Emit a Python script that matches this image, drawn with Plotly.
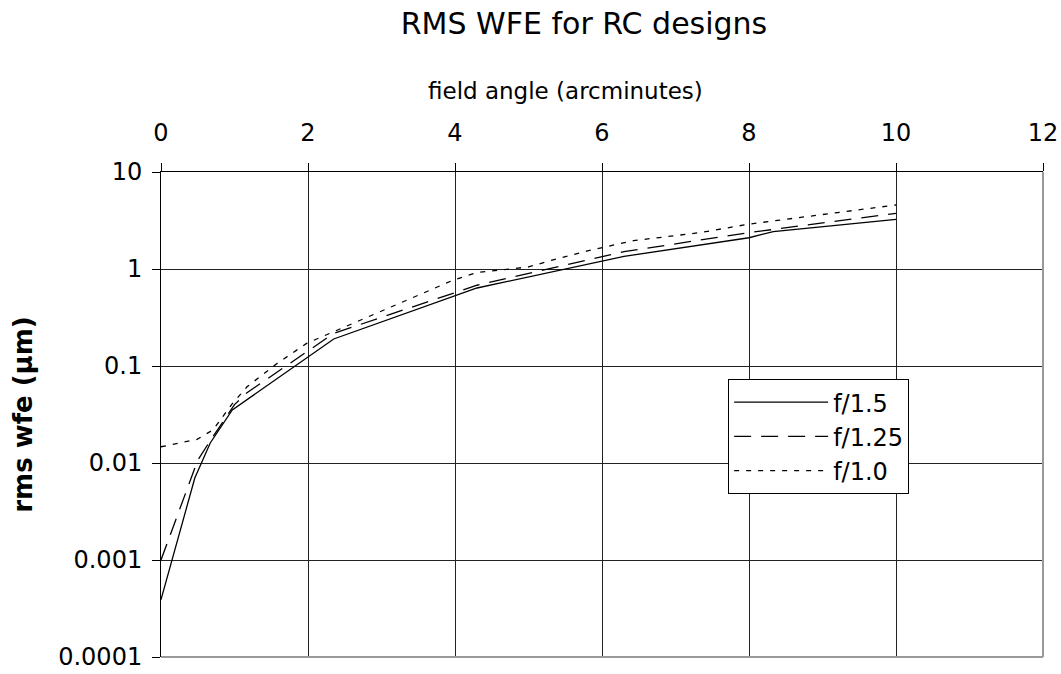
import plotly.graph_objects as go

# field angle (arcminutes) and rms wfe (um)
x_f15 = [0, 0.46, 0.67, 0.97, 2.35, 4.3, 6.3, 8.0, 8.33, 10]
y_f15 = [0.00039, 0.0070, 0.0161, 0.0352, 0.190, 0.637, 1.35, 2.10, 2.43, 3.25]

x_f125 = [0, 0.5, 0.67, 1.0, 1.17, 2.35, 4.3, 6.3, 8.0, 10]
y_f125 = [0.0010, 0.0107, 0.017, 0.040, 0.053, 0.217, 0.68, 1.51, 2.37, 3.75]

x_f10 = [0, 0.49, 0.71, 0.96, 1.17, 1.57, 1.98, 3.25, 3.98, 4.3, 5.0, 5.3, 5.79, 6.43, 7.33, 8.01, 9.15, 10]
y_f10 = [0.0147, 0.0175, 0.022, 0.040, 0.061, 0.105, 0.171, 0.443, 0.77, 0.92, 1.05, 1.22, 1.53, 1.96, 2.37, 2.91, 3.8, 4.57]

x_ticks = [0, 2, 4, 6, 8, 10, 12]
y_ticks = [0.0001, 0.001, 0.01, 0.1, 1, 10]
y_ticklabels = ['0.0001', '0.001', '0.01', '0.1', '1', '10']

FONT = "DejaVu Sans"
W, H = 1061, 674

fig = go.Figure()

fig.add_trace(go.Scatter(x=x_f15, y=y_f15, mode='lines', name='f/1.5',
                         line=dict(color='black', width=1.3)))
fig.add_trace(go.Scatter(x=x_f125, y=y_f125, mode='lines', name='f/1.25',
                         line=dict(color='black', width=1.3, dash='17px,10px')))
fig.add_trace(go.Scatter(x=x_f10, y=y_f10, mode='lines', name='f/1.0',
                         line=dict(color='black', width=1.3, dash='5px,7px')))

fig.update_layout(
    width=W, height=H,
    paper_bgcolor='white', plot_bgcolor='white',
    margin=dict(l=161, r=18, t=172, b=17, autoexpand=False),
    font=dict(family=FONT, size=24, color='black'),
    title=dict(text='RMS WFE for RC designs', x=584/W, xanchor='center',
               xref='container', y=1 - 23/H, yanchor='middle',
               font=dict(family=FONT, size=30, color='black')),
    showlegend=True,
    legend=dict(x=0.643, y=0.573, xanchor='left', yanchor='top',
                bgcolor='white', bordercolor='black', borderwidth=1,
                font=dict(family=FONT, size=24, color='black'),
                itemwidth=94, tracegroupgap=0),
)

fig.update_xaxes(
    side='top', range=[0, 12], tickvals=x_ticks,
    showgrid=True, gridcolor='#222222', gridwidth=1,
    showline=True, linecolor='black', linewidth=1,
    ticks='outside', ticklen=8, tickcolor='black',
    ticklabelstandoff=12, ticklabeloverflow='allow', zeroline=False,
    tickfont=dict(family=FONT, size=24, color='black'),
)
fig.update_yaxes(
    type='log', range=[-4, 1], tickvals=y_ticks, ticktext=y_ticklabels,
    showgrid=True, gridcolor='#222222', gridwidth=1,
    showline=True, linecolor='black', linewidth=1,
    ticks='outside', ticklen=8, tickcolor='black',
    ticklabelstandoff=5, ticklabeloverflow='allow', zeroline=False,
    tickfont=dict(family=FONT, size=24, color='black'),
    title=dict(text='rms wfe (\u03bcm)', standoff=18,
               font=dict(family=FONT, size=26, color='black', weight='bold')),
)

# x axis title sits a little left of the axis centre in the original
fig.add_annotation(text='field angle (arcminutes)', xref='paper', yref='paper',
                   x=(565 - 161) / 882, y=(657 - 91) / 485, xanchor='center', yanchor='middle',
                   showarrow=False, font=dict(family=FONT, size=23, color='black'))

# grey bottom and right frame edges
fig.add_shape(type='line', xref='paper', yref='paper', x0=0, x1=1, y0=0, y1=0,
              line=dict(color='#999999', width=2), layer='above')
fig.add_shape(type='line', xref='paper', yref='paper', x0=1, x1=1, y0=0, y1=1,
              line=dict(color='#999999', width=2), layer='above')

# drop the browser's default body margin so the figure fills the window
fig.write_html("out.html", config={'displayModeBar': False},
               post_script="document.body.style.margin = '0';")
